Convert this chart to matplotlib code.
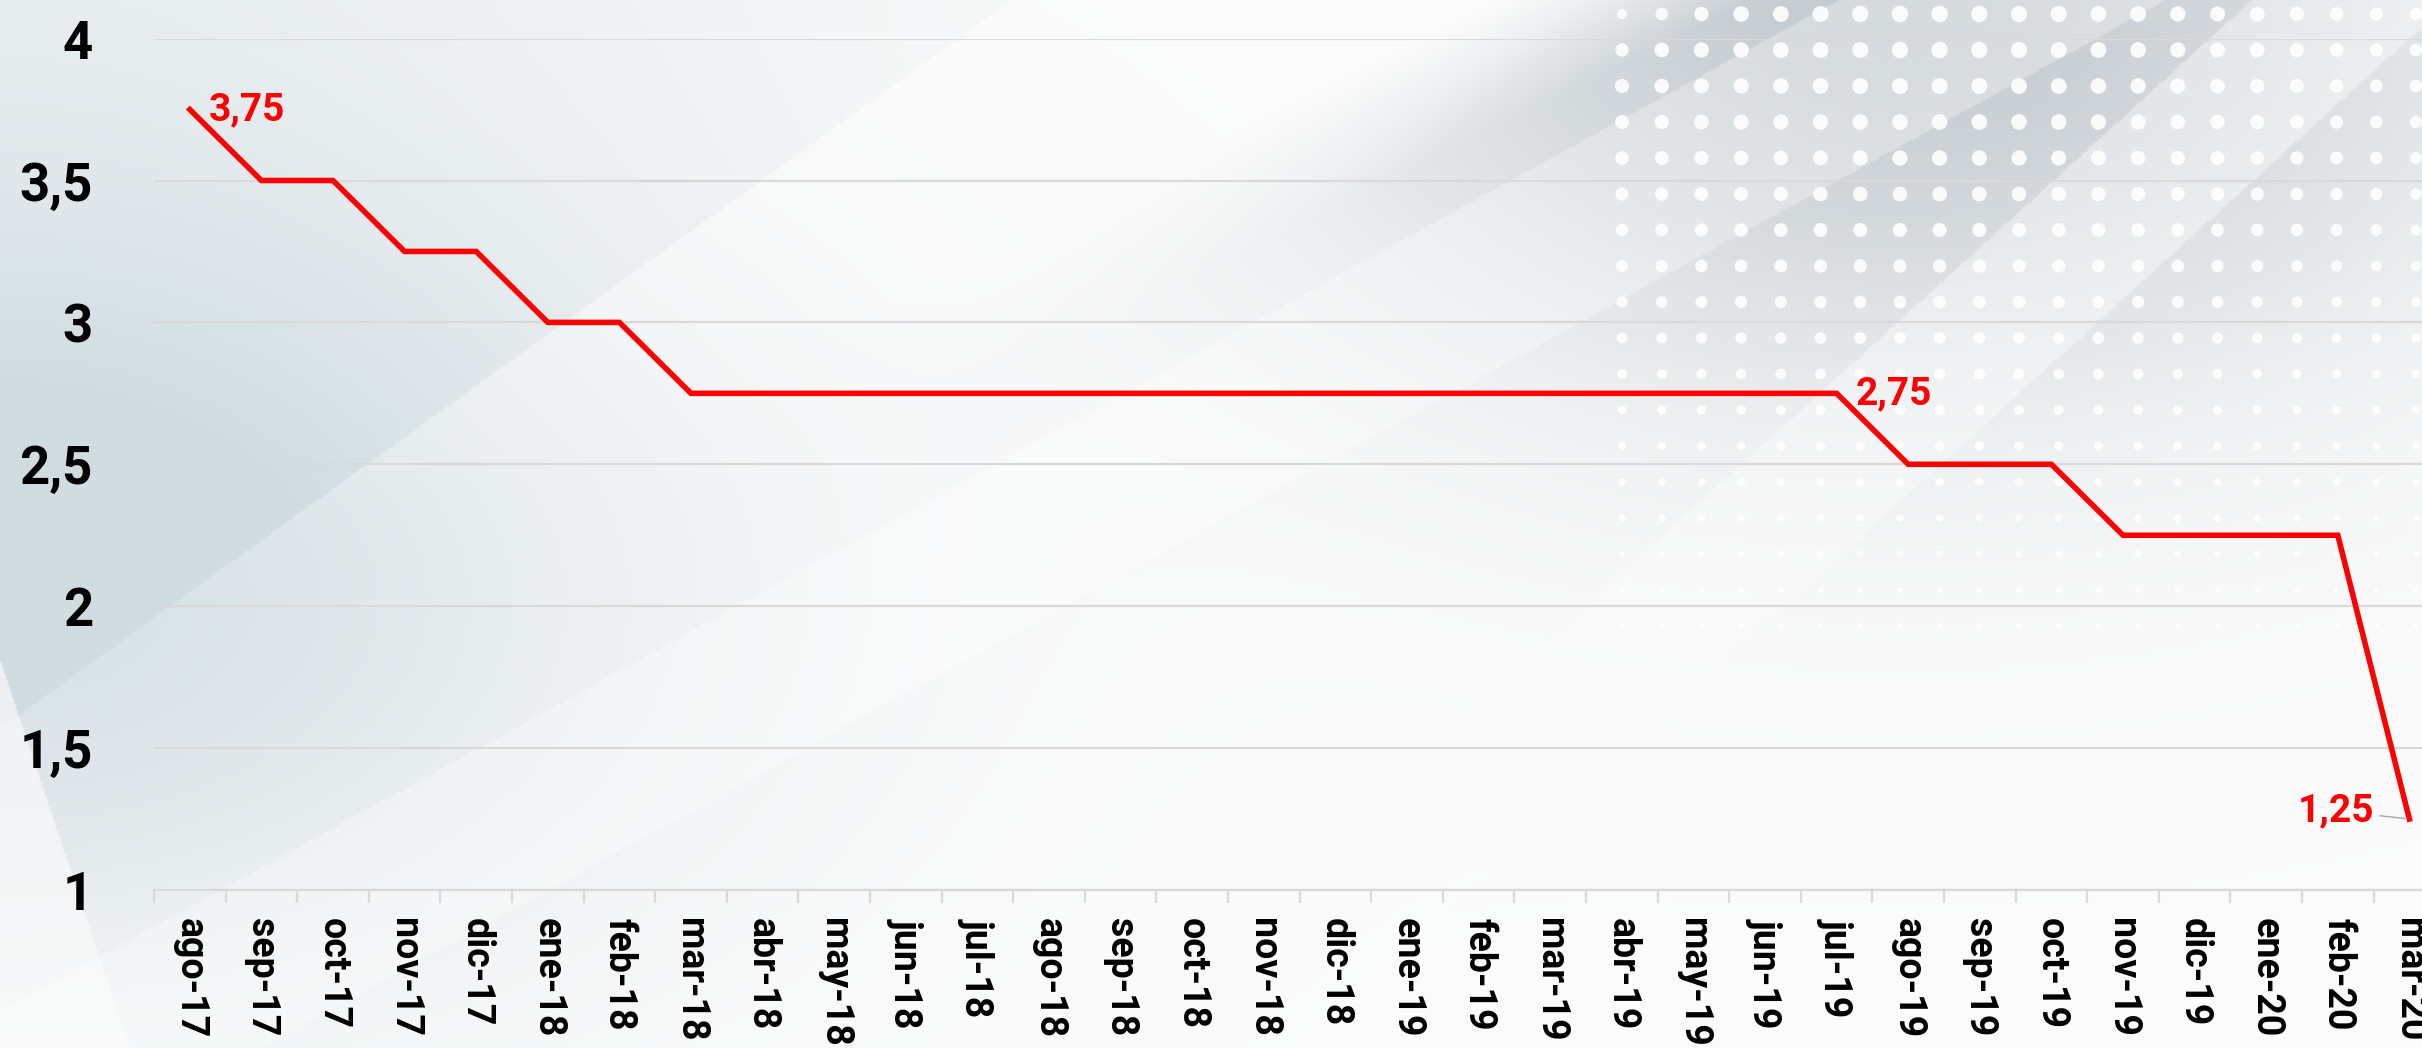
import numpy as np
from matplotlib import pyplot as plt

months = ['ago-17', 'sep-17', 'oct-17', 'nov-17', 'dic-17', 'ene-18', 'feb-18', 'mar-18',
          'abr-18', 'may-18', 'jun-18', 'jul-18', 'ago-18', 'sep-18', 'oct-18', 'nov-18',
          'dic-18', 'ene-19', 'feb-19', 'mar-19', 'abr-19', 'may-19', 'jun-19', 'jul-19',
          'ago-19', 'sep-19', 'oct-19', 'nov-19', 'dic-19', 'ene-20', 'feb-20', 'mar-20']
rates = [3.75, 3.5, 3.5, 3.25, 3.25, 3.0, 3.0, 2.75,
         2.75, 2.75, 2.75, 2.75, 2.75, 2.75, 2.75, 2.75,
         2.75, 2.75, 2.75, 2.75, 2.75, 2.75, 2.75, 2.75,
         2.5, 2.5, 2.5, 2.25, 2.25, 2.25, 2.25, 1.25]
labelled = {'ago-17': 'right', 'jul-19': 'right', 'mar-20': 'left'}

FONT = 'Roboto'

W, H = 2422, 1048
fig = plt.figure(figsize=(W / 100, H / 100), dpi=100)

# decorative background (pixel coordinates)
bg = fig.add_axes([0, 0, 1, 1])
bg.set_xlim(0, W)
bg.set_ylim(H, 0)
bg.axis('off')

yy, xx = np.mgrid[0:H:2, 0:W:2].astype(float)
img = np.ones((yy.shape[0], yy.shape[1], 3)) * 0.985
teal = np.array([0.80, 0.85, 0.87])
# teal tint on the left, stronger around the middle of the left edge
w = np.exp(-(xx / 650.0) ** 2) * np.exp(-((yy - 600) / 380.0) ** 2) * 0.75
w += np.where(yy < 727 - 0.72 * xx, 0.35, 0.0) * np.exp(-(xx / 900.0) ** 2)
w = np.clip(w, 0, 0.9)
# lighter wedge bottom-left
w *= np.where(yy > 660 + 3.0 * xx, 0.35, 1.0)
img = img * (1 - w[..., None]) + teal * w[..., None]
# grey area top right
grey = np.array([0.76, 0.79, 0.81])
g = np.exp(-((xx - 1900) / 600.0) ** 2) * np.exp(-(yy / 380.0) ** 2) * 0.95
g *= np.clip((xx + 2.0 * yy - 1500) / 250.0, 0, 1)
g *= np.where((xx + 1.1 * yy > 2250) & (xx + 1.1 * yy < 2450), 0.55, 1.0)
img = img * (1 - g[..., None]) + grey * g[..., None]
# white diagonal band
band = np.abs((yy - (1100 - 0.55 * xx))) < 90
img[band] = img[band] * 0.7 + 0.3
bg.imshow(img, extent=(0, W, H, 0), aspect='auto', interpolation='bilinear', zorder=0)

# white dots
dx, dy = np.meshgrid(np.arange(1622, W + 40, 39.7), np.arange(14, 640, 36))
dsize = 140 * np.exp(-((dx - 1950) / 650.0) ** 2) * np.exp(-(dy / 420.0) ** 2)
dsize *= np.clip((dx + 2.0 * dy - 1550) / 200.0, 0.15, 1)
bg.scatter(dx.ravel(), dy.ravel(), s=dsize.ravel(), color='white', alpha=0.9, lw=0, zorder=1)

# chart
ax = fig.add_axes([154 / W, 1 - 890 / H, 32 * 71.6 / W, (890 - 38.6) / H])
ax.patch.set_alpha(0)
x = np.arange(len(months))
ax.plot(x, rates, color='#ff0000', lw=4, solid_joinstyle='miter', zorder=3)

ax.set_xlim(-0.5, len(months) - 0.5)
ax.set_ylim(1, 4)
ax.set_yticks([1, 1.5, 2, 2.5, 3, 3.5, 4])
ax.set_yticklabels(['1', '1,5', '2', '2,5', '3', '3,5', '4'])
ax.grid(axis='y', color='#d9d9d9', lw=1.6, zorder=1)

ax.set_xticks(np.arange(len(months) + 1) - 0.5)
ax.set_xticklabels([])
ax.set_xticks(x, minor=True)
ax.set_xticklabels(months, minor=True, rotation=-90, fontsize=27, fontweight='bold',
                   family=FONT, va='top', ha='center')
ax.tick_params(axis='x', which='major', length=9, width=1.6, color='#d9d9d9', direction='out')
ax.tick_params(axis='x', which='minor', length=0, pad=20)
ax.tick_params(axis='y', length=0, pad=44)
for lab in ax.get_yticklabels():
    lab.set_fontsize(38)
    lab.set_fontweight('bold')
    lab.set_family(FONT)

for s in ['top', 'right', 'left']:
    ax.spines[s].set_visible(False)
ax.spines['bottom'].set_color('#d9d9d9')
ax.spines['bottom'].set_linewidth(1.6)

for i, m in enumerate(months):
    if m in labelled:
        txt = '{:.2f}'.format(rates[i]).replace('.', ',')
        if labelled[m] == 'right':
            ax.annotate(txt, (i, rates[i]), xytext=(14, 0), textcoords='offset points',
                        ha='left', va='center', color='#ff0000', fontsize=28,
                        fontweight='bold', family=FONT, zorder=4)
        else:
            ax.annotate(txt, (i, rates[i]), xytext=(-25, 6), textcoords='offset points',
                        ha='right', va='center', color='#ff0000', fontsize=28,
                        fontweight='bold', family=FONT, zorder=4,
                        arrowprops=dict(arrowstyle='-', color='#a6a6a6', lw=1,
                                        shrinkA=2, shrinkB=2))

fig.savefig('out.png', dpi=100)
